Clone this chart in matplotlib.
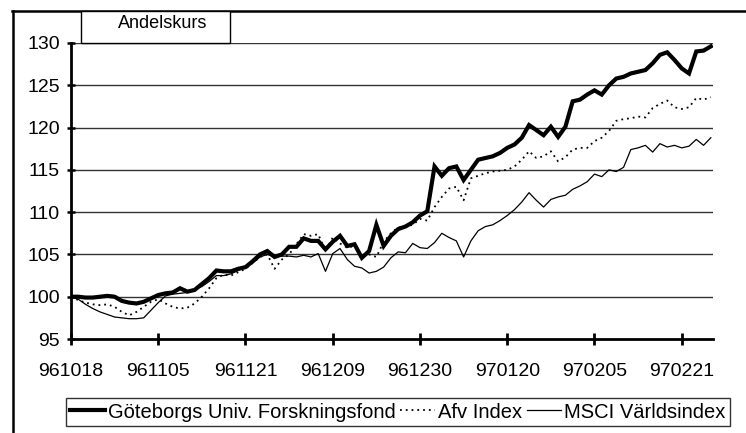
import matplotlib
matplotlib.use("Agg")
import matplotlib.pyplot as plt
from matplotlib.patches import Rectangle
from matplotlib.lines import Line2D

plt.rcParams['font.family'] = ['Liberation Sans', 'DejaVu Sans']

title_text = "Andelskurs"
series_names = ["Göteborgs Univ. Forskningsfond", "Afv Index", "MSCI Världsindex"]
tick_dates = ["961018", "961105", "961121", "961209", "961230", "970120", "970205", "970221"]
tick_step = 12

fund = [100.0, 100.0, 99.9, 99.9, 100.0, 100.1, 100.0, 99.5, 99.3, 99.2,
        99.4, 99.8, 100.2, 100.4, 100.5, 101.0, 100.6, 100.8, 101.5, 102.2,
        103.1, 103.0, 103.0, 103.3, 103.5, 104.2, 105.0, 105.4, 104.7, 105.0,
        105.9, 105.9, 106.9, 106.6, 106.6, 105.6, 106.5, 107.2, 106.0, 106.2,
        104.6, 105.4, 108.5, 106.0, 107.2, 108.0, 108.3, 108.8, 109.6, 110.1,
        115.4, 114.3, 115.2, 115.4, 113.8, 115.0, 116.2, 116.4, 116.6, 117.0,
        117.6, 118.0, 118.8, 120.3, 119.7, 119.1, 120.1, 118.9, 120.1, 123.1,
        123.3, 123.9, 124.4, 123.9, 125.0, 125.8, 126.0, 126.4, 126.6, 126.8,
        127.6, 128.6, 128.9, 128.0, 127.0, 126.4, 129.0, 129.1, 129.6]

afv = [100.0, 99.6, 99.3, 99.1, 99.0, 99.1, 98.8, 98.2, 97.8, 98.2,
       98.8, 99.4, 99.7, 99.2, 98.8, 98.6, 98.7, 99.2, 100.0, 101.0,
       102.2, 102.6, 102.5, 102.9, 103.3, 104.0, 104.7, 105.0, 103.3, 104.4,
       105.0, 106.2, 107.4, 107.2, 107.4, 105.4, 107.0, 106.3, 105.8, 106.0,
       104.9, 105.0, 104.7, 106.5, 107.5, 108.2, 108.3, 108.5, 109.2, 109.0,
       110.6, 111.8, 112.8, 113.0, 111.4, 114.0, 114.3, 114.6, 114.8, 114.9,
       115.0, 115.4, 116.2, 117.2, 116.4, 116.6, 117.2, 116.0, 116.5, 117.4,
       117.6, 117.6, 118.4, 118.8, 119.6, 120.8, 121.0, 121.1, 121.3, 121.2,
       122.3, 122.8, 123.2, 122.4, 122.2, 122.4, 123.5, 123.3, 123.6]

msci = [100.0, 99.7, 99.1, 98.6, 98.2, 97.9, 97.6, 97.5, 97.4, 97.4,
        97.5, 98.4, 99.3, 100.1, 100.3, 100.4, 100.5, 100.9, 101.2, 101.8,
        102.5, 102.5, 102.7, 103.1, 103.5, 104.0, 104.7, 105.0, 104.7, 104.8,
        104.8, 104.7, 104.9, 104.7, 105.1, 103.0, 105.1, 105.7, 104.4, 103.6,
        103.4, 102.8, 103.0, 103.5, 104.6, 105.3, 105.2, 106.3, 105.8, 105.7,
        106.4, 107.5, 107.0, 106.6, 104.7, 106.6, 107.8, 108.3, 108.5, 109.0,
        109.6, 110.3, 111.2, 112.3, 111.4, 110.6, 111.5, 111.8, 112.0, 112.7,
        113.1, 113.6, 114.5, 114.2, 115.0, 114.8, 115.3, 117.4, 117.6, 117.9,
        117.1, 118.1, 117.7, 117.9, 117.6, 117.8, 118.6, 117.9, 118.8]

y_ticks = [95, 100, 105, 110, 115, 120, 125, 130]

W, H = 746, 433
fig = plt.figure(figsize=(W / 100, H / 100), dpi=100)
ax = fig.add_axes([71 / W, 1 - 339 / H, (713 - 71) / W, (339 - 43) / H])

x = list(range(len(fund)))
ax.plot(x, msci, color='black', lw=0.9, zorder=3)
ax.plot(x, afv, color='black', lw=1.3, linestyle=(0, (1, 2.2)), zorder=3)
ax.plot(x, fund, color='black', lw=3.0, zorder=4, solid_joinstyle='miter')

ax.set_xlim(0, 88.3)
ax.set_ylim(95, 130)
ax.set_yticks(y_ticks)
ax.set_xticks([i * tick_step for i in range(len(tick_dates))])
ax.set_xticklabels(tick_dates)

for v in y_ticks[1:]:
    ax.axhline(v, color='#333333', lw=1.0, zorder=1)

for s in ['top', 'right']:
    ax.spines[s].set_visible(False)
for s in ['left', 'bottom']:
    ax.spines[s].set_linewidth(2.0)
    ax.spines[s].set_color('black')

ax.tick_params(axis='y', direction='inout', length=6, width=1.8, pad=5,
               labelsize=14, colors='black')
ax.tick_params(axis='x', direction='inout', length=9, width=2.0, pad=13,
               labelsize=14, colors='black')

# outer frame (top and left edges)
fig.add_artist(Line2D([12 / W, 1.0], [1 - 10.5 / H, 1 - 10.5 / H],
                      transform=fig.transFigure, color='black', lw=1.8))
fig.add_artist(Line2D([12.5 / W, 12.5 / W], [0, 1 - 10.5 / H],
                      transform=fig.transFigure, color='black', lw=1.8))

# title box
fig.add_artist(Rectangle((81 / W, 1 - 43 / H), (230 - 81) / W, (43 - 11) / H,
                         transform=fig.transFigure, facecolor='white',
                         edgecolor='black', lw=1.0, zorder=5))
fig.text(163 / W, 1 - 23 / H, title_text, ha='center', va='center',
         fontsize=13, color='black', zorder=6)

handles = [Line2D([], [], color='black', lw=3.0),
           Line2D([], [], color='black', lw=1.3, linestyle=(0, (1, 2.2))),
           Line2D([], [], color='black', lw=0.9)]
leg = fig.legend(handles, series_names, loc='center',
                 bbox_to_anchor=(398 / W, 1 - 412 / H), ncol=3,
                 frameon=True, fancybox=False, edgecolor='black',
                 fontsize=14.5, handlelength=1.7, handletextpad=0.15,
                 columnspacing=0.25, borderpad=0.2, borderaxespad=0)
leg.get_frame().set_linewidth(1.0)

fig.savefig("out.png", dpi=100)
